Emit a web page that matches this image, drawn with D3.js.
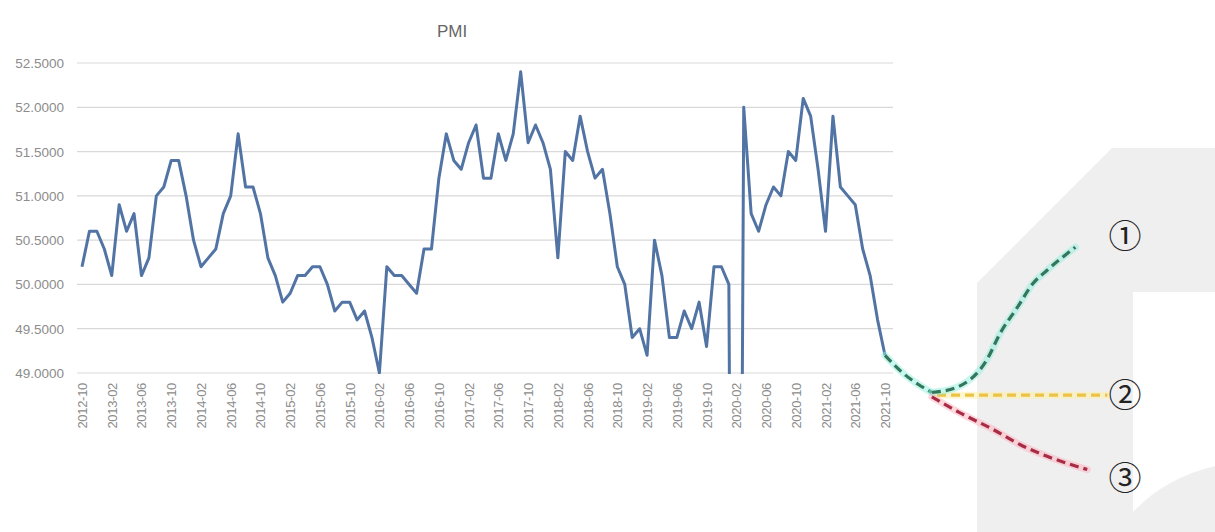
<!DOCTYPE html>
<html>
<head>
<meta charset="utf-8">
<script src="https://cdn.jsdelivr.net/npm/d3@7"></script>
<style>
  html, body { margin: 0; padding: 0; background: #fff; }
  svg { display: block; font-family: "Liberation Sans", Arial, sans-serif; }
</style>
</head>
<body>
<svg id="chart"></svg>
<script>
// PMI, monthly, 2012-10 .. 2021-10
const startMonth = '2012-10';
const pmi = [
  50.2, 50.6, 50.6,
  50.4, 50.1, 50.9, 50.6, 50.8, 50.1, 50.3, 51.0, 51.1, 51.4, 51.4, 51.0,
  50.5, 50.2, 50.3, 50.4, 50.8, 51.0, 51.7, 51.1, 51.1, 50.8, 50.3, 50.1,
  49.8, 49.9, 50.1, 50.1, 50.2, 50.2, 50.0, 49.7, 49.8, 49.8, 49.6, 49.7,
  49.4, 49.0, 50.2, 50.1, 50.1, 50.0, 49.9, 50.4, 50.4, 51.2, 51.7, 51.4,
  51.3, 51.6, 51.8, 51.2, 51.2, 51.7, 51.4, 51.7, 52.4, 51.6, 51.8, 51.6,
  51.3, 50.3, 51.5, 51.4, 51.9, 51.5, 51.2, 51.3, 50.8, 50.2, 50.0, 49.4,
  49.5, 49.2, 50.5, 50.1, 49.4, 49.4, 49.7, 49.5, 49.8, 49.3, 50.2, 50.2,
  50.0, 35.7, 52.0, 50.8, 50.6, 50.9, 51.1, 51.0, 51.5, 51.4, 52.1, 51.9,
  51.3, 50.6, 51.9, 51.1, 51.0, 50.9, 50.4, 50.1, 49.6, 49.2
];
const yTicks = [49, 49.5, 50, 50.5, 51, 51.5, 52, 52.5];

// scenarios: [months after 2021-10, value]
const leadIn = [[0, 49.2], [2.4, 49.0], [4.5, 48.87], [6.3, 48.78]];
const scenUp = [[6.3, 48.78], [9.7, 48.84], [13.7, 49.15], [15.5, 49.45], [17.8, 49.74], [19.9, 50.01], [21.8, 50.16], [25.6, 50.42]];
const scenFlat = [[7.0, 48.75], [29.9, 48.75]];
const scenDown = [[6.3, 48.73], [10.1, 48.55], [14.6, 48.36], [18.2, 48.19], [21.8, 48.06], [27.2, 47.91]];
const scenLabels = ['①', '②', '③'];
const scenLabelVals = [50.55, 48.75, 47.82];

const width = 1215, height = 532;

const months = d3.utcMonth.range(new Date(startMonth + '-01T00:00:00Z'),
  d3.utcMonth.offset(new Date(startMonth + '-01T00:00:00Z'), pmi.length))
  .map(d3.utcFormat('%Y-%m'));

const svg = d3.select('#chart')
  .attr('width', width)
  .attr('height', height);

// watermark in the background
svg.append('path')
  .attr('d', 'M977,532 L977,283 L1112,148 L1215,148 L1215,292 L1133,292 L1133,532 Z')
  .attr('fill', '#efefef');
svg.append('path')
  .attr('d', 'M1133,532 L1133,512 Q1165,478 1215,466 L1215,532 Z')
  .attr('fill', '#efefef');

const x = d3.scalePoint()
  .domain(months)
  .range([82, 885]);

const xm = d3.scaleLinear()
  .domain([0, pmi.length - 1])
  .range([82, 885]);

const y = d3.scaleLinear()
  .domain([49, 52.5])
  .range([373, 63]);

// title
svg.append('text')
  .attr('x', 452).attr('y', 37)
  .attr('text-anchor', 'middle')
  .attr('fill', '#666')
  .style('font-size', '17px')
  .text('PMI');

// grid + y labels
svg.append('g')
  .selectAll('line')
  .data(yTicks)
  .enter().append('line')
  .attr('x1', 77).attr('x2', 893)
  .attr('y1', d => y(d)).attr('y2', d => y(d))
  .attr('stroke', '#d9d9d9')
  .attr('stroke-width', 1.2);

svg.append('g')
  .selectAll('text')
  .data(yTicks)
  .enter().append('text')
  .attr('x', 64)
  .attr('y', d => y(d) + 5)
  .attr('text-anchor', 'end')
  .attr('fill', '#8c8c8c')
  .style('font-size', '13.5px')
  .text(d => d.toFixed(4));

// x labels, every 4th month
svg.append('g')
  .selectAll('text')
  .data(months.filter((m, i) => i % 4 === 0))
  .enter().append('text')
  .attr('transform', d => `translate(${x(d) + 5},383) rotate(-90)`)
  .attr('text-anchor', 'end')
  .attr('fill', '#8c8c8c')
  .style('font-size', '13px')
  .style('letter-spacing', '-0.3px')
  .text(d => d);

// clip to plot area
svg.append('clipPath').attr('id', 'plot')
  .append('rect').attr('x', 70).attr('y', 40).attr('width', 830).attr('height', 334);

const line = d3.line()
  .x((d, i) => x(months[i]))
  .y(d => y(d));

svg.append('path')
  .datum(pmi)
  .attr('clip-path', 'url(#plot)')
  .attr('d', line)
  .attr('fill', 'none')
  .attr('stroke', '#5274a5')
  .attr('stroke-width', 3)
  .attr('stroke-linejoin', 'round');

// scenarios
const sx = d => xm(pmi.length - 1 + d[0]);
const scen = d3.line().x(sx).y(d => y(d[1])).curve(d3.curveMonotoneX);

const scenarios = [
  { pts: leadIn, col: '#33765a', glow: '#8ff0e0' },
  { pts: scenFlat, col: '#ecc248', glow: '#fff0a0' },
  { pts: scenUp, col: '#33765a', glow: '#8ff0e0' },
  { pts: scenDown, col: '#a82c44', glow: '#ffb0c0' }
];

scenarios.forEach(s => {
  svg.append('path')
    .attr('d', scen(s.pts))
    .attr('fill', 'none')
    .attr('stroke', s.glow)
    .attr('stroke-opacity', 0.5)
    .attr('stroke-width', 7)
    .attr('stroke-linecap', 'round');
  svg.append('path')
    .attr('d', scen(s.pts))
    .attr('fill', 'none')
    .attr('stroke', s.col)
    .attr('stroke-width', 3.2)
    .attr('stroke-dasharray', '9,5');
});

svg.append('g')
  .selectAll('text')
  .data(scenLabels)
  .enter().append('text')
  .attr('x', 1125)
  .attr('y', (d, i) => y(scenLabelVals[i]) + 12)
  .attr('text-anchor', 'middle')
  .attr('fill', '#222')
  .style('font-family', '"Noto Sans CJK SC", "DejaVu Sans", sans-serif')
  .style('font-size', '33px')
  .text(d => d);
</script>
</body>
</html>
